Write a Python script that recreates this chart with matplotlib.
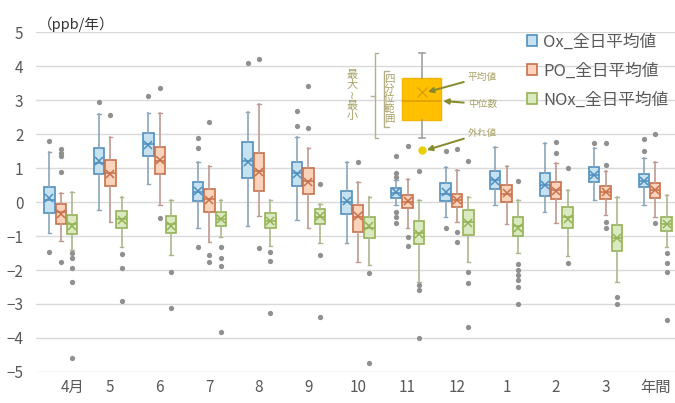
import matplotlib
matplotlib.use("Agg")
import matplotlib.pyplot as plt
from matplotlib.patches import Patch

# Fuentes: CJK primero, DejaVu como respaldo
plt.rcParams["font.family"] = ["Noto Sans CJK JP", "DejaVu Sans"]

months = ["4月", "5", "6", "7", "8", "9", "10", "11", "12", "1", "2", "3", "年間"]
series_names = ["Ox_全日平均値", "PO_全日平均値", "NOx_全日平均値"]

# Ox
ox_hi = [1.48, 2.59, 2.63, 1.19, 2.66, 1.92, 1.17, 0.65, 1.04, 1.63, 1.73, 1.58, 1.30]
ox_q3 = [0.45, 1.60, 2.02, 0.58, 1.76, 1.17, 0.33, 0.40, 0.55, 0.92, 0.86, 1.04, 0.82]
ox_med = [0.05, 1.15, 1.70, 0.28, 1.20, 0.85, 0.00, 0.27, 0.25, 0.65, 0.50, 0.80, 0.62]
ox_mean = [0.12, 1.22, 1.68, 0.33, 1.18, 0.82, 0.03, 0.28, 0.28, 0.62, 0.50, 0.80, 0.63]
ox_q1 = [-0.31, 0.82, 1.35, 0.03, 0.72, 0.48, -0.36, 0.12, 0.04, 0.37, 0.18, 0.60, 0.43]
ox_lo = [-0.91, -0.24, 0.53, -0.75, -0.70, -0.53, -1.22, -0.10, -0.43, -0.09, -0.28, 0.06, -0.09]
ox_out = [[1.80, -1.46], [2.95], [3.12], [1.87, 1.60, -1.33], [4.08], [2.69, 2.24], [],
          [1.35, 0.85, 0.75, -0.30, -0.45, -0.62], [1.50, -0.75], [], [], [1.73], [1.84, 1.50]]

# PO
po_hi = [0.26, 1.92, 2.63, 1.07, 2.87, 1.58, 0.60, 0.68, 0.94, 1.07, 1.14, 0.90, 1.19]
po_q3 = [-0.06, 1.24, 1.63, 0.38, 1.43, 0.99, -0.10, 0.21, 0.25, 0.50, 0.60, 0.48, 0.57]
po_med = [-0.30, 0.85, 1.20, 0.08, 0.90, 0.62, -0.45, 0.00, 0.05, 0.25, 0.35, 0.30, 0.35]
po_mean = [-0.35, 0.82, 1.25, 0.05, 0.88, 0.60, -0.42, 0.02, 0.05, 0.27, 0.33, 0.30, 0.35]
po_q1 = [-0.65, 0.48, 0.81, -0.30, 0.33, 0.25, -0.89, -0.19, -0.14, 0.01, 0.08, 0.09, 0.11]
po_lo = [-1.14, -0.58, -0.09, -1.17, -0.41, -0.75, -1.76, -0.77, -0.58, -0.65, -0.63, -0.38, -0.45]
po_out = [[1.55, 1.45, 1.35, 0.89, -1.76], [2.57], [3.34, -0.47], [2.36, -1.56, -1.76], [4.20, -1.36],
          [3.42, 2.17], [1.17], [1.65, -1.02, -1.28], [1.55, -0.87, -1.17], [], [1.77, 1.45],
          [1.73, 1.09, -0.58, -0.75], [1.99, -0.62]]

# NOx
nox_hi = [0.30, 0.16, 0.06, 0.06, 0.06, -0.07, 0.16, 0.06, 0.16, 0.06, 0.35, 0.16, 0.21]
nox_q3 = [-0.38, -0.26, -0.40, -0.28, -0.31, -0.21, -0.45, -0.55, -0.24, -0.45, -0.16, -0.68, -0.45]
nox_med = [-0.65, -0.50, -0.65, -0.50, -0.55, -0.45, -0.75, -0.90, -0.60, -0.70, -0.45, -1.05, -0.65]
nox_mean = [-0.70, -0.52, -0.70, -0.50, -0.55, -0.40, -0.72, -0.95, -0.62, -0.75, -0.50, -1.05, -0.65]
nox_q1 = [-0.94, -0.77, -0.92, -0.71, -0.77, -0.65, -1.05, -1.24, -0.97, -1.00, -0.77, -1.43, -0.84]
nox_lo = [-1.41, -1.31, -1.56, -1.04, -1.30, -1.22, -1.85, -2.34, -1.76, -1.50, -1.60, -2.34, -1.31]
nox_out = [[-1.50, -1.65, -1.95, -2.35, -4.60], [-1.53, -1.94, -2.91], [-2.05, -3.12],
           [-1.32, -1.64, -1.87, -3.81], [-1.46, -1.73, -3.27], [0.53, -1.56, -3.37], [-2.10, -4.73],
           [0.90, -2.45, -2.60, -3.99], [1.20, -2.05, -2.39, -3.67],
           [0.62, -1.82, -2.00, -2.15, -2.30, -2.49, -3.01], [1.00, -1.80], [-2.80, -3.00],
           [-1.49, -1.78, -2.05, -3.47]]

# Caja de ejemplo (leyenda explicativa)
sample_lo, sample_q1, sample_med, sample_q3, sample_hi = 1.87, 2.41, 2.97, 3.64, 4.39
sample_mean = 3.24
sample_out = [1.53]


def make_stats(lo, q1, med, q3, hi, mean, out):
    return [dict(whislo=a, q1=b, med=c, q3=d, whishi=e, mean=f, fliers=g)
            for a, b, c, d, e, f, g in zip(lo, q1, med, q3, hi, mean, out)]


stats_all = [
    make_stats(ox_lo, ox_q1, ox_med, ox_q3, ox_hi, ox_mean, ox_out),
    make_stats(po_lo, po_q1, po_med, po_q3, po_hi, po_mean, po_out),
    make_stats(nox_lo, nox_q1, nox_med, nox_q3, nox_hi, nox_mean, nox_out),
]
edges = ["#4f8fbf", "#c8704a", "#93b254"]
fills = ["#c6e2f0", "#fbd3bb", "#dbe9c0"]
whisk = ["#8aa5ba", "#bf9a90", "#a9b98c"]
offsets = [-0.23, 0.0, 0.23]

fig = plt.figure(figsize=(6.75, 4.03), dpi=100)
ax = fig.add_axes([36 / 675, 1 - 372 / 403, 1 - 36 / 675, (372 - 32) / 403])

pos = list(range(len(months)))
for stats, off, ec, fc, wc in zip(stats_all, offsets, edges, fills, whisk):
    ax.bxp(stats, positions=[p + off for p in pos], widths=0.21, patch_artist=True,
           showmeans=True, manage_ticks=False, capwidths=0.07,
           boxprops=dict(facecolor=fc, edgecolor=ec, linewidth=1.2),
           medianprops=dict(color=ec, linewidth=1.1),
           whiskerprops=dict(color=wc, linewidth=1.2),
           capprops=dict(color=wc, linewidth=1.0),
           flierprops=dict(marker="o", markersize=3.8, markerfacecolor="#909090",
                           markeredgecolor="none"),
           meanprops=dict(marker="x", markeredgecolor=ec, markersize=6, markeredgewidth=1.1))

# Caja naranja de ejemplo
sample = [dict(whislo=sample_lo, q1=sample_q1, med=sample_med, q3=sample_q3,
               whishi=sample_hi, mean=sample_mean, fliers=sample_out)]
ax.bxp(sample, positions=[7.29], widths=0.79, patch_artist=True, showmeans=True,
       manage_ticks=False, capwidths=0.12,
       boxprops=dict(facecolor="#ffc000", edgecolor="#f5b400", linewidth=1),
       medianprops=dict(color="#e0a000", linewidth=1.2),
       whiskerprops=dict(color="#a0a0a0", linewidth=1.2),
       capprops=dict(color="#a0a0a0", linewidth=1.2),
       flierprops=dict(marker="o", markersize=6, markerfacecolor="#e8d000",
                       markeredgecolor="none"),
       meanprops=dict(marker="x", markeredgecolor="#e0a000", markersize=7, markeredgewidth=1))

ann_col = "#a8a266"
arr_col = "#868a2a"
# Corchete exterior (máximo ~ mínimo)
ax.plot([6.40, 6.34, 6.34, 6.40], [sample_hi, sample_hi, sample_lo, sample_lo], color="#b5b08a", lw=1)
ax.plot([6.34, 6.26], [(sample_hi + sample_lo) / 2, (sample_hi + sample_lo) / 2], color="#b5b08a", lw=1)
ax.text(5.88, (sample_hi + sample_lo) / 2, "\n".join("最大≀最小"), color=ann_col, fontsize=8,
        ha="center", va="center", linespacing=1.05)
# Corchete interior (rango intercuartil)
ax.plot([6.62, 6.53, 6.53, 6.62], [3.85, 3.85, 2.2, 2.2], color="#b5b08a", lw=1)
ax.text(6.63, 3.02, "\n".join("四分位範囲"), color=ann_col, fontsize=7.5,
        ha="center", va="center", linespacing=1.0)

for txt, xy, xyt in [("平均値", (7.41, sample_mean), (8.22, 3.68)),
                     ("中位数", (7.72, sample_med), (8.22, 2.88)),
                     ("外れ値", (7.39, sample_out[0]), (8.22, 2.03))]:
    ax.annotate(txt, xy=xy, xytext=xyt, color=ann_col, fontsize=7, ha="left", va="center",
                arrowprops=dict(arrowstyle="-|>", color=arr_col, lw=1.4, mutation_scale=8,
                                shrinkA=1, shrinkB=0))

ax.set_xlim(-0.5, 12.4)
ax.set_ylim(-5, 5)
ax.set_yticks(range(-5, 6))
ax.set_xticks(pos)
ax.set_xticklabels(months)
ax.get_xticklabels()[0].set_horizontalalignment("left")
ax.yaxis.grid(True, color="#d9d9d9", linewidth=1)
ax.set_axisbelow(True)
for s in ax.spines.values():
    s.set_visible(False)
ax.tick_params(axis="y", length=0, labelsize=11, labelcolor="#595959", pad=9)
ax.tick_params(axis="x", length=0, labelsize=11, labelcolor="#595959", pad=5)

fig.text(38 / 675, 1 - 24 / 403, "（ppb/年）", fontsize=10.5, color="#333333", ha="left", va="center")

handles = [Patch(facecolor=fc, edgecolor=ec, linewidth=1.2) for fc, ec in zip(fills, edges)]
ax.legend(handles, series_names, loc="upper right", bbox_to_anchor=(1.0, 1.015), frameon=False,
          fontsize=12, labelcolor="#595959", handlelength=0.6, handleheight=0.6,
          handletextpad=0.4, labelspacing=0.72, borderaxespad=0)

plt.savefig("out.png", dpi=100)
